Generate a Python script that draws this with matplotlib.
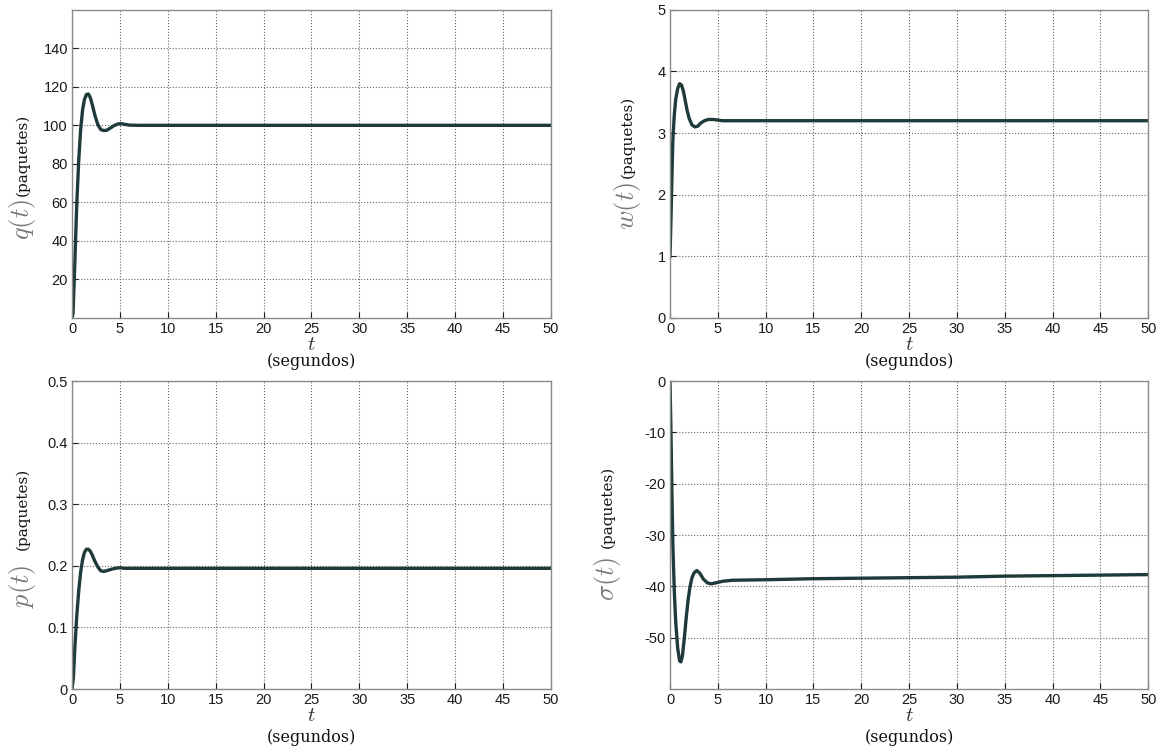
import matplotlib
matplotlib.use("Agg")
import matplotlib.pyplot as plt

plt.rcParams['mathtext.fontset'] = 'cm'
plt.rcParams['font.family'] = ['Liberation Sans', 'DejaVu Sans']

# --- datos ---
t_q = [0, 0.1, 0.3, 0.5, 0.7, 0.9, 1.1, 1.3, 1.5, 1.7, 1.9, 2.1, 2.4, 2.7,
       3.0, 3.3, 3.6, 4.0, 4.4, 4.8, 5.1, 5.5, 6.0, 7, 10, 50]
q = [0, 2, 30, 60, 82, 98, 108, 113.5, 116, 116.3, 114.5, 111, 105, 100.3,
     97.8, 97.3, 97.4, 98.6, 99.9, 100.7, 100.9, 100.5, 100.1, 100, 100, 100]

t_w = [0, 0.1, 0.2, 0.3, 0.45, 0.6, 0.8, 1.0, 1.2, 1.4, 1.6, 1.8, 2.0, 2.3,
       2.6, 2.9, 3.2, 3.6, 4.0, 4.5, 5.0, 5.5, 6.5, 10, 50]
w = [1.0, 1.6, 2.3, 2.9, 3.3, 3.55, 3.72, 3.8, 3.78, 3.68, 3.52, 3.36, 3.24,
     3.13, 3.1, 3.11, 3.16, 3.2, 3.22, 3.22, 3.21, 3.2, 3.2, 3.2, 3.2]

t_p = [0, 0.15, 0.3, 0.5, 0.7, 0.9, 1.1, 1.3, 1.5, 1.7, 1.9, 2.1, 2.4, 2.7,
       3.0, 3.3, 3.6, 4.0, 4.5, 5.0, 5.5, 6.0, 7, 50]
p = [0, 0.02, 0.07, 0.12, 0.16, 0.19, 0.21, 0.222, 0.227, 0.227, 0.224,
     0.218, 0.207, 0.198, 0.192, 0.191, 0.192, 0.194, 0.196, 0.197, 0.196,
     0.196, 0.196, 0.196]

t_s = [0, 0.1, 0.2, 0.3, 0.45, 0.6, 0.8, 1.0, 1.15, 1.3, 1.5, 1.7, 1.9, 2.1,
       2.3, 2.5, 2.8, 3.1, 3.5, 3.9, 4.3, 4.8, 5.5, 6.5, 10, 15, 20, 25, 30,
       35, 40, 45, 50]
sigma = [0, -10, -22, -32, -41, -47, -52, -54.5, -54.7, -53.5, -50, -46,
         -42.5, -40, -38.3, -37.4, -36.9, -37.4, -38.6, -39.3, -39.5, -39.3,
         -39.0, -38.8, -38.7, -38.5, -38.4, -38.3, -38.2, -38.0, -37.9, -37.8,
         -37.7]

xticks = list(range(0, 51, 5))

paneles = [
    # datos, posicion, ylim, yticks, etiqueta, pos etiquetas (x, y_mat, y_paq)
    (t_q, q, [0.062, 0.579, 0.412, 0.408], (0, 160), [20, 40, 60, 80, 100, 120, 140],
     r'$q(t)$', (-0.104, 0.32, 0.53), 'top'),
    (t_w, w, [0.5766, 0.579, 0.4115, 0.408], (0, 5), [0, 1, 2, 3, 4, 5],
     r'$w(t)$', (-0.088, 0.364, 0.588), 'top'),
    (t_p, p, [0.062, 0.0873, 0.412, 0.408], (0, 0.5), [0, 0.1, 0.2, 0.3, 0.4, 0.5],
     r'$p(t)$', (-0.104, 0.334, 0.584), 'bot'),
    (t_s, sigma, [0.5766, 0.0873, 0.4115, 0.408], (-60, 0), [-50, -40, -30, -20, -10, 0],
     r'$\sigma(t)$', (-0.13, 0.357, 0.59), 'bot'),
]

fig = plt.figure(figsize=(11.62, 7.55), dpi=100)

for tt, yy, pos, ylim, yt, lab, lp, fila in paneles:
    ax = fig.add_axes(pos)
    ax.plot(tt, yy, color='#1f3a3a', lw=2.4)
    ax.set_xlim(0, 50)
    ax.set_ylim(*ylim)
    ax.set_xticks(xticks)
    ax.set_yticks(yt)
    ax.set_yticklabels(['0' if v == 0 else ('%g' % v) for v in yt])
    ax.grid(True, linestyle=':', color='#666666', lw=0.8)
    ax.tick_params(direction='in', length=4, labelsize=10.5, colors='#1a1a1a',
                   pad=3)
    for s in ax.spines.values():
        s.set_color('#8a8a8a')
        s.set_linewidth(1.0)
    # etiquetas del eje y
    ax.text(lp[0], lp[1], lab, transform=ax.transAxes, rotation=90,
            fontsize=19, color='#7a7a7a', ha='center', va='center')
    ax.text(lp[0], lp[2], '(paquetes)', transform=ax.transAxes, rotation=90,
            fontsize=11, family='DejaVu Serif', color='#111111',
            ha='center', va='center')
    # etiquetas del eje x
    yt_t = -0.085
    yt_s = -0.142 if fila == 'top' else -0.158
    ax.text(0.5, yt_t, r'$t$', transform=ax.transAxes, fontsize=15,
            color='#333333', ha='center', va='center')
    ax.text(0.5, yt_s, '(segundos)', transform=ax.transAxes, fontsize=11.5,
            family='DejaVu Serif', color='#111111', ha='center',
            va='center')

fig.savefig('out.png', dpi=100)
